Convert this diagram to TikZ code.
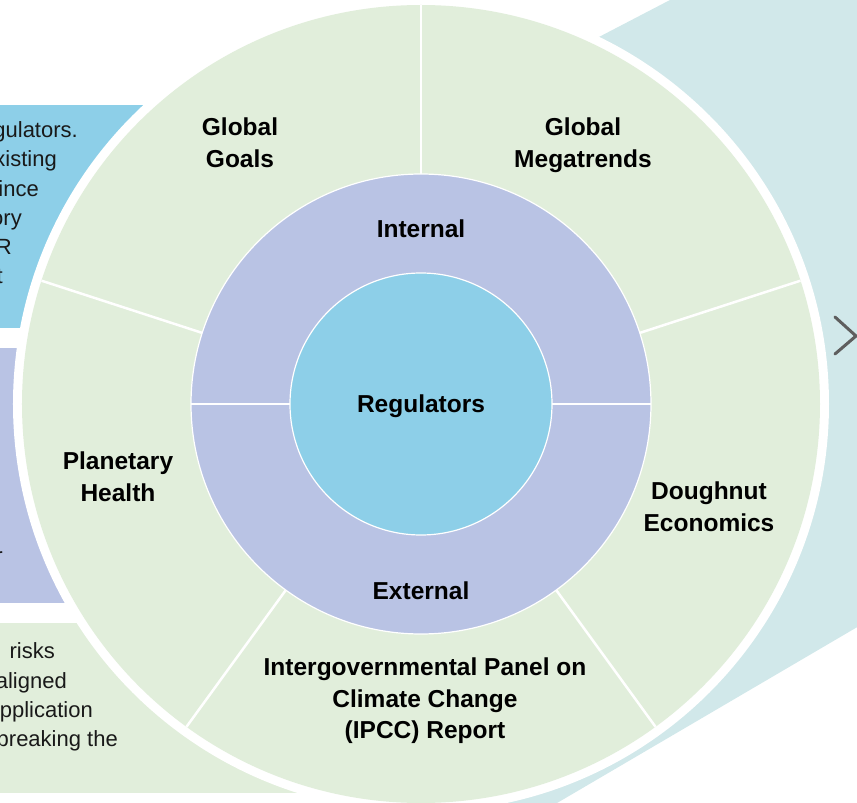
\documentclass[tikz,border=0pt]{standalone}
\usepackage{fontspec}
\setmainfont{Liberation Sans}
\usetikzlibrary{positioning}

\definecolor{ringgreen}{HTML}{E1EEDB}
\definecolor{ringpurple}{HTML}{B9C3E4}
\definecolor{coreblue}{HTML}{8DCFE8}
\definecolor{fanteal}{HTML}{D1E8EA}
\definecolor{chevgray}{HTML}{5E5E5E}

\begin{document}
\begin{tikzpicture}[x=1pt,y=1pt,
  ring label/.style={font=\bfseries\fontsize{24.5}{31.5}\selectfont,align=center,text=black},
  side text/.style={font=\fontsize{22}{29}\selectfont,anchor=base east,inner sep=0pt,text=black!90},
  divider/.style={white,line width=2.5pt},
  rim/.style={draw=white,line width=1.2pt}]

  \useasboundingbox (-421,-399) rectangle (436,404);
  \clip (-421,-399) rectangle (436,404);

  % fan behind the wheel
  \fill[fanteal] (0,0) -- (176,366) -- (322,442) -- (479,442) -- (479,-198)
    -- (90,-426) -- (19,-426) -- cycle;

  % cards on the left
  \fill[coreblue] (-430,76) rectangle (-200,299);
  \fill[ringpurple] (-430,-199) rectangle (-200,56);
  \fill[ringgreen] (-430,-389) rectangle (-110,-219);

  \node[side text] (b1) at (-343,266) {gulators.};
  \node[side text] (b2) at (-364,237) {xisting};
  \node[side text] (b3) at (-382,207.5) {ince};
  \node[side text] (b4) at (-399,178) {ory};
  \node[side text] (b5) at (-409,149) {R};
  \node[side text] (b6) at (-418,120) {t};
  \node[side text] (p1) at (-418,-159) {r};
  \node[side text] (g1) at (-366,-254) {risks};
  \node[side text] (g2) at (-354,-284) {aligned};
  \node[side text] (g3) at (-328,-313) {pplication};
  \node[side text] (g4) at (-303,-342) {breaking the};

  % the wheel
  \fill[white] (0,0) circle (408pt);
  \fill[ringgreen] (0,0) circle (399pt);
  \foreach \a in {18,90,162,234,306}
    \draw[divider] (\a:230pt) -- (\a:399pt);
  \path[fill=ringpurple,rim] (0,0) circle (230pt);
  \draw[divider,line width=2pt] (0:131pt) -- (0:230pt);
  \draw[divider,line width=2pt] (180:131pt) -- (180:230pt);
  \path[fill=coreblue,rim] (0,0) circle (131pt);

  \node[ring label] (core) at (0,-2) {Regulators};
  \node[ring label] (internal) at (0,175) {Internal};
  \node[ring label] (external) at (0,-187) {External};
  \node[ring label] (goals) at (-181,261.5) {Global\\Goals};
  \node[ring label] (megatrends) at (162,259) {Global\\Megatrends};
  \node[ring label] (planetary) at (-303,-72.5) {Planetary\\Health};
  \node[ring label] (doughnut) at (288,-102.5) {Doughnut\\Economics};
  \node[ring label] (ipcc) at (4,-297) {Intergovernmental Panel on\\Climate Change\\(IPCC) Report};

  % next arrow
  \coordinate (chev top) at (414,87);
  \coordinate (chev tip) at (435,68);
  \coordinate (chev bottom) at (414,50);
  \draw[chevgray,line width=3pt,line cap=round,line join=round]
    (chev top) -- (chev tip) -- (chev bottom);
\end{tikzpicture}
\end{document}
